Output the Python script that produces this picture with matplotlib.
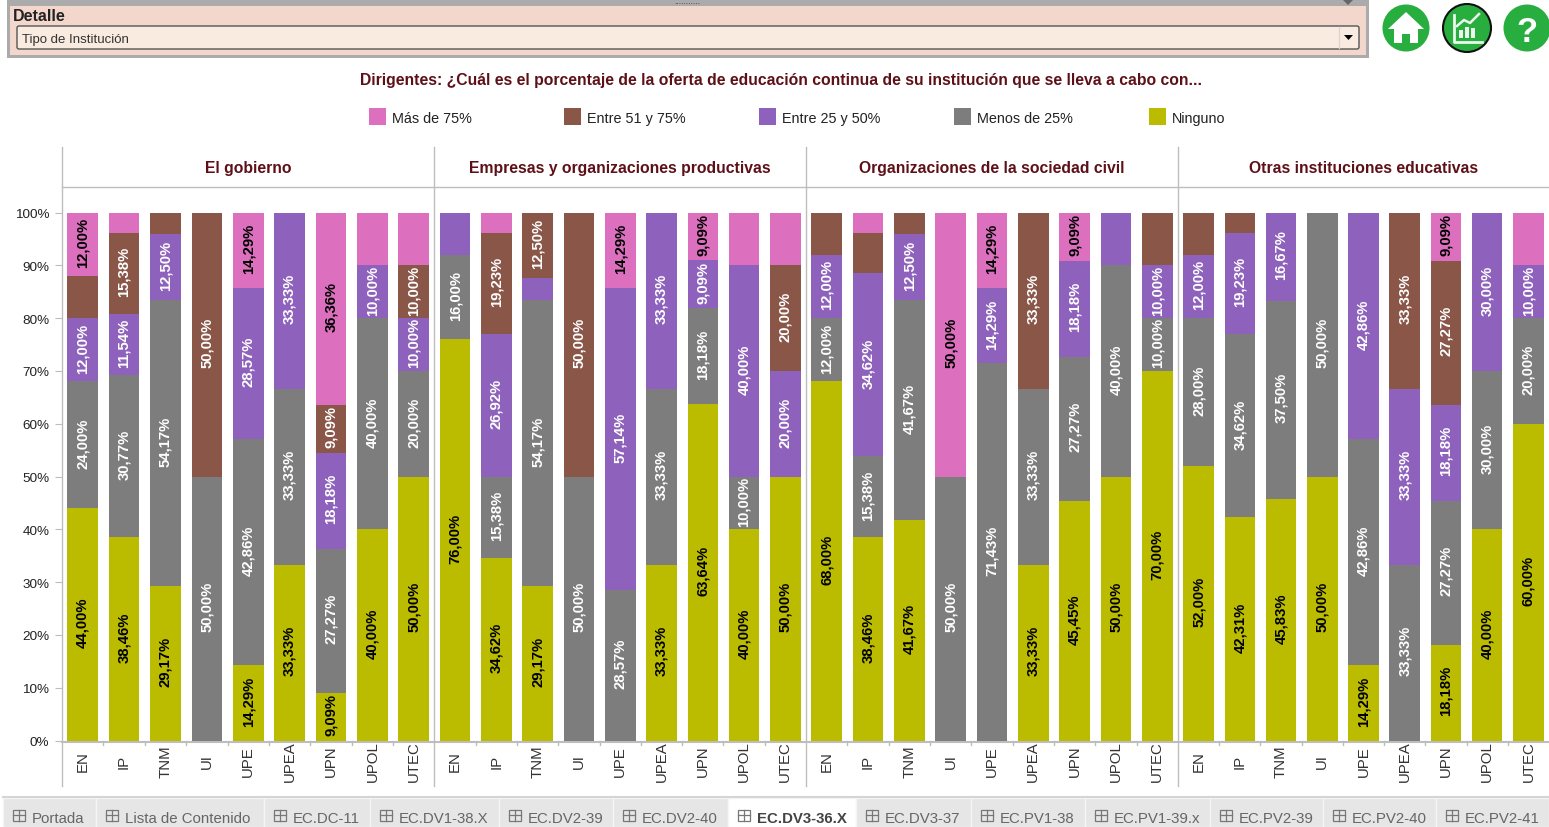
import matplotlib
matplotlib.use("Agg")
import matplotlib.pyplot as plt
from matplotlib.patches import Rectangle, Circle, Polygon, FancyBboxPatch

W, H = 1549, 828

institutions = ['EN', 'IP', 'TNM', 'UI', 'UPE', 'UPEA', 'UPN', 'UPOL', 'UTEC']
panels = ['El gobierno', 'Empresas y organizaciones productivas',
          'Organizaciones de la sociedad civil', 'Otras instituciones educativas']
series_names = ['Ninguno', 'Menos de 25%', 'Entre 25 y 50%', 'Entre 51 y 75%', 'Más de 75%']
series_colors = ['#BBBC00', '#7D7D7D', '#8E61BC', '#895648', '#DD6FBF']
label_colors = ['black', 'white', 'white', 'white', 'black']

# one row per institution, columns follow series_names
gobierno = [
    [44.00, 24.00, 12.00, 8.00, 12.00],
    [38.46, 30.77, 11.54, 15.38, 3.85],
    [29.17, 54.17, 12.50, 4.17, 0],
    [0, 50.00, 0, 50.00, 0],
    [14.29, 42.86, 28.57, 0, 14.29],
    [33.33, 33.33, 33.33, 0, 0],
    [9.09, 27.27, 18.18, 9.09, 36.36],
    [40.00, 40.00, 10.00, 0, 10.00],
    [50.00, 20.00, 10.00, 10.00, 10.00],
]
empresas = [
    [76.00, 16.00, 8.00, 0, 0],
    [34.62, 15.38, 26.92, 19.23, 3.85],
    [29.17, 54.17, 4.17, 12.50, 0],
    [0, 50.00, 0, 50.00, 0],
    [0, 28.57, 57.14, 0, 14.29],
    [33.33, 33.33, 33.33, 0, 0],
    [63.64, 18.18, 9.09, 0, 9.09],
    [40.00, 10.00, 40.00, 0, 10.00],
    [50.00, 0, 20.00, 20.00, 10.00],
]
sociedad = [
    [68.00, 12.00, 12.00, 8.00, 0],
    [38.46, 15.38, 34.62, 7.69, 3.85],
    [41.67, 41.67, 12.50, 4.17, 0],
    [0, 50.00, 0, 0, 50.00],
    [0, 71.43, 14.29, 0, 14.29],
    [33.33, 33.33, 0, 33.33, 0],
    [45.45, 27.27, 18.18, 0, 9.09],
    [50.00, 40.00, 10.00, 0, 0],
    [70.00, 10.00, 10.00, 10.00, 0],
]
otras = [
    [52.00, 28.00, 12.00, 8.00, 0],
    [42.31, 34.62, 19.23, 3.85, 0],
    [45.83, 37.50, 16.67, 0, 0],
    [50.00, 50.00, 0, 0, 0],
    [14.29, 42.86, 42.86, 0, 0],
    [0, 33.33, 33.33, 33.33, 0],
    [18.18, 27.27, 18.18, 27.27, 9.09],
    [40.00, 30.00, 30.00, 0, 0],
    [60.00, 20.00, 10.00, 0, 10.00],
]
panel_values = [gobierno, empresas, sociedad, otras]

tab_names = ['Portada', 'Lista de Contenido', 'EC.DC-11', 'EC.DV1-38.X', 'EC.DV2-39', 'EC.DV2-40',
             'EC.DV3-36.X', 'EC.DV3-37', 'EC.PV1-38', 'EC.PV1-39.x', 'EC.PV2-39', 'EC.PV2-40', 'EC.PV2-41']
tab_edges = [3, 96, 264, 370, 499, 613, 728, 856, 971, 1085, 1210, 1323, 1436, 1549]

plt.rcParams['font.family'] = ['Liberation Sans', 'DejaVu Sans']
GRID = '#BDBDBD'
TITLE = '#5E1018'

fig = plt.figure(figsize=(W / 100, H / 100), dpi=100)


# Background layer in pixel coordinates, y going down
bg = fig.add_axes([0, 0, 1, 1], zorder=0)
bg.set_xlim(0, W)
bg.set_ylim(H, 0)
bg.axis('off')


def draw_text(x, y, s, **kw):
    kw.setdefault('va', 'center_baseline')
    bg.text(x, y, s, **kw)


# Filter panel at the top
bg.add_patch(Rectangle((7, 0), 1362, 59, fc='#ABABAB', ec='none'))
bg.add_patch(Rectangle((10, 7), 1356, 49, fc='#F3D7CC', ec='none'))
bg.add_patch(FancyBboxPatch((17, 27), 1342, 23, boxstyle='round,pad=0,rounding_size=2',
                            fc='#F9EBE0', ec='#555555', lw=1))
bg.add_patch(Polygon([(1344, 36), (1353, 36), (1348.5, 41)], fc='black', ec='none'))
bg.plot([1339, 1339], [28, 49], color='#E0D5CC', lw=1)
draw_text(13, 15, 'Detalle', fontsize=11.5, fontweight='bold', color='#222222')
draw_text(22, 38.5, 'Tipo de Institución', fontsize=9.5, color='#333333')
draw_text(687, 2, '...........', fontsize=6, ha='center', color='#333333')
bg.add_patch(Polygon([(1342, 0), (1354, 0), (1348, 6)], fc='#666666', ec='none'))

# Green buttons
GREEN = '#27AE3F'
for cx in [1406, 1527]:
    bg.add_patch(Circle((cx, 29), 23.5, fc=GREEN, ec='none'))
bg.add_patch(Circle((1467, 29), 24, fc=GREEN, ec='#111111', lw=1.5))
bg.add_patch(Polygon([(1388, 30), (1406, 13), (1424, 30), (1418, 30), (1418, 44), (1410, 44),
                      (1410, 35), (1402, 35), (1402, 44), (1394, 44), (1394, 30)], fc='white', ec='none'))
ICON = '#EAF7EC'
bg.plot([1454, 1454, 1482], [16, 43, 43], color=ICON, lw=2)
for bx, bh in [(1459, 8), (1465, 11), (1471, 10)]:
    bg.add_patch(Rectangle((bx, 39 - bh), 4, bh, fc=ICON, ec='none'))
bg.plot([1457, 1464, 1470, 1479], [27, 21, 24, 15], color=ICON, lw=1.8)
draw_text(1527, 29, '?', fontsize=25, fontweight='bold', color='white', ha='center')

# Title and legend
draw_text(781, 79, 'Dirigentes: ¿Cuál es el porcentaje de la oferta de educación continua de su institución que se lleva a cabo con...',
          fontsize=11.35, fontweight='bold', color=TITLE, ha='center')
legend_x = [369, 564, 759, 954, 1149]
for i, lx in enumerate(legend_x):
    k = len(series_names) - 1 - i
    bg.add_patch(Rectangle((lx, 109), 17, 17, fc=series_colors[k], ec='none'))
    draw_text(lx + 23, 117.5, series_names[k], fontsize=10.4, color='#222222')

# Grid frame of the facets
panel_edges = [62, 434.5, 806, 1178, 1549]
TOP, BOTTOM = 213.5, 741.5
for px in panel_edges[:-1]:
    bg.plot([px, px], [148, 787], color=GRID, lw=1)
bg.plot([62, 1549], [187.5, 187.5], color=GRID, lw=1)
bg.plot([62, 1549], [742.5, 742.5], color=GRID, lw=1.5)

# Stacked bars, one axes per facet
for p, name in enumerate(panels):
    left, right = panel_edges[p], panel_edges[p + 1]
    ax = fig.add_axes([left / W, 1 - BOTTOM / H, (right - left) / W, (BOTTOM - TOP) / H], zorder=1)
    ax.patch.set_alpha(0)
    ax.set_xlim(-0.5, 8.5)
    ax.set_ylim(0, 100)
    for s in ax.spines.values():
        s.set_visible(False)

    rows = panel_values[p]
    bottoms = [0.0] * len(institutions)
    for k, sname in enumerate(series_names):
        vals = [row[k] for row in rows]
        ax.bar(range(len(institutions)), vals, width=0.74, bottom=bottoms, color=series_colors[k], lw=0)
        for i, v in enumerate(vals):
            # the tool drops the 10 % label on the top segment
            is_top = bottoms[i] + v > 99.9
            if v >= 9 and not (is_top and v == 10):
                ax.annotate(f'{v:.2f}%'.replace('.', ','), (i, bottoms[i] + v / 2), xytext=(0, 1.6),
                            textcoords='offset points', rotation=90, ha='center', va='center',
                            fontsize=10.7, fontweight='bold', color=label_colors[k])
        bottoms = [b + v for b, v in zip(bottoms, vals)]

    ax.set_xticks(range(len(institutions)))
    ax.set_xticklabels(institutions, rotation=90, fontsize=10.8, color='#333333', va='center')
    ax.tick_params(axis='x', length=0, pad=14.5)
    if p == 0:
        ax.set_yticks(range(0, 101, 10))
        ax.set_yticklabels([f'{t}%' for t in range(0, 101, 10)], fontsize=9.7, color='#222222')
        ax.tick_params(axis='y', length=5, color=GRID, pad=4)
    else:
        ax.set_yticks([])
    ax.text(0.5, 1 + 46.5 / (BOTTOM - TOP), name, transform=ax.transAxes, ha='center', va='center_baseline',
            fontsize=11.35, fontweight='bold', color=TITLE)
    # small ticks between the institutions, below the base line
    for i in range(1, len(institutions)):
        xpix = left + (right - left) * i / len(institutions)
        bg.plot([xpix, xpix], [742, 746], color=GRID, lw=1)

# Sheet tabs at the bottom
bg.add_patch(Rectangle((0, 798), W, 30, fc='#FFFFFF', ec='none'))
bg.plot([3, W], [798.5, 798.5], color='#D5D5D5', lw=1.5)
for i, tab in enumerate(tab_names):
    x0, x1 = tab_edges[i], tab_edges[i + 1]
    active = tab == 'EC.DV3-36.X'
    bg.add_patch(Rectangle((x0, 799), x1 - x0, 29, fc='white' if active else '#E6E6E6', ec='#F5F5F5', lw=1))
    ix = x0 + 10
    bg.add_patch(Rectangle((ix, 811), 12, 11, fc='none', ec='#777777', lw=0.9))
    bg.plot([ix + 6, ix + 6], [811, 822], color='#777777', lw=0.9)
    bg.plot([ix, ix + 12], [816.5, 816.5], color='#777777', lw=0.9)
    draw_text(ix + 19, 817.5, tab, fontsize=10.8, color='#444444' if active else '#666666',
              fontweight='bold' if active else 'normal')

fig.savefig('out.png', dpi=100)
